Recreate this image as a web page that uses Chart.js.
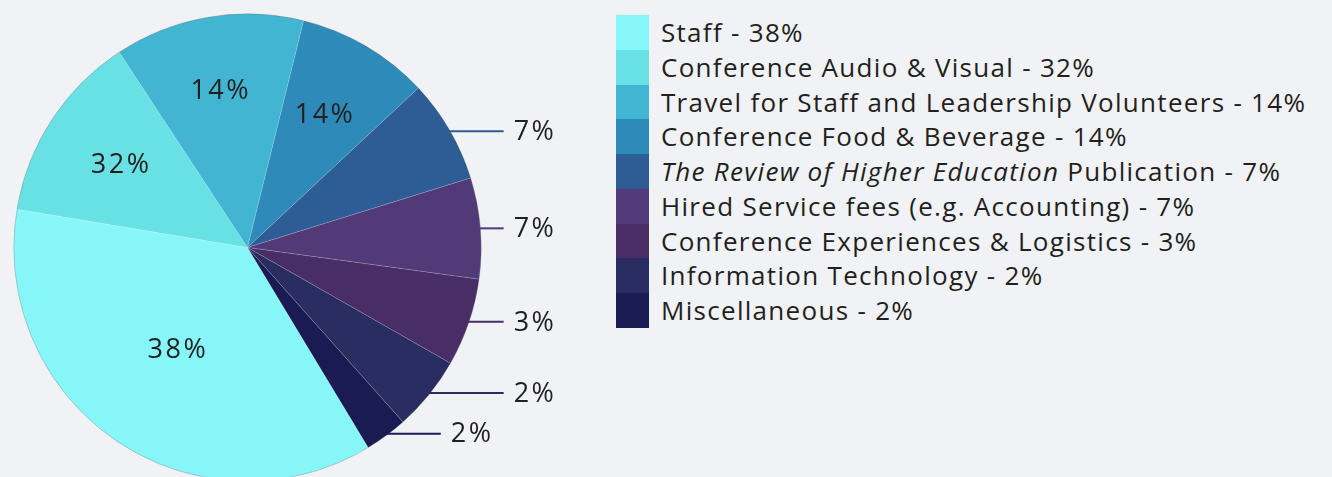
<!DOCTYPE html>
<html lang="en">
<head>
<meta charset="UTF-8">
<title>Budget breakdown</title>
<script src="https://cdn.jsdelivr.net/npm/chart.js"></script>
<style>
  html, body { margin: 0; padding: 0; background: #f1f2f5; overflow: hidden; width: 1332px; height: 477px; }
  #wrap { position: absolute; left: 0; top: 0; width: 600px; height: 495px; }
  #legend { position: absolute; left: 616px; top: 15px; font-family: "Open Sans", sans-serif; font-size: 26px; letter-spacing: 1.3px; color: #231f20; }
  .row { display: flex; align-items: center; height: 34.75px; }
  .sw { width: 33px; height: 34.75px; margin-right: 12px; }
  .txt { white-space: nowrap; line-height: 34.75px; }
</style>
</head>
<body>
<div id="wrap"><canvas id="pie" width="600" height="495"></canvas></div>
<div id="legend"></div>
<script>
// categories (the Review one has an italic title part)
const categories = [
    'Staff',
    'Conference Audio & Visual',
    'Travel for Staff and Leadership Volunteers',
    'Conference Food & Beverage',
    'Publication',
    'Hired Service fees (e.g. Accounting)',
    'Conference Experiences & Logistics',
    'Information Technology',
    'Miscellaneous'
];
const italicPrefix = ['', '', '', '', 'The Review of Higher Education', '', '', '', ''];
// slice sizes as drawn in the picture (degrees of the circle)
const sliceValues = [130.5, 47.3, 47.2, 33.1, 25.7, 25.1, 21.9, 18.6, 10.6];
// percentage labels printed on the chart
const percentLabels = ['38%', '32%', '14%', '14%', '7%', '7%', '3%', '2%', '2%'];
const colors = ['#86f6f8', '#68e1e4', '#42b5d2', '#2e8ab8', '#2d5d94', '#523a79', '#482d66', '#2a2d61', '#1b1b53'];

// légende en HTML
const legend = document.getElementById('legend');
categories.forEach((cat, i) => {
    const row = document.createElement('div');
    row.className = 'row';
    const sw = document.createElement('div');
    sw.className = 'sw';
    sw.style.background = colors[i];
    const txt = document.createElement('div');
    txt.className = 'txt';
    if (italicPrefix[i]) {
        const em = document.createElement('em');
        em.textContent = italicPrefix[i];
        txt.appendChild(em);
        txt.appendChild(document.createTextNode(' '));
    }
    txt.appendChild(document.createTextNode(cat + ' - ' + percentLabels[i]));
    row.appendChild(sw);
    row.appendChild(txt);
    legend.appendChild(row);
});

// fin contour gris autour du camembert
const outlinePlugin = {
    id: 'pieOutline',
    afterDatasetsDraw(chart) {
        const arc = chart.getDatasetMeta(0).data[0];
        if (!arc) return;
        const ctx = chart.ctx;
        ctx.save();
        ctx.strokeStyle = 'rgba(0,0,0,0.18)';
        ctx.lineWidth = 1;
        ctx.beginPath();
        ctx.arc(arc.x, arc.y, arc.outerRadius, 0, Math.PI * 2);
        ctx.stroke();
        ctx.restore();
    }
};

// étiquettes : dedans pour les grosses parts, avec trait pour les petites
const pctLabelPlugin = {
    id: 'pctLabels',
    afterDatasetsDraw(chart, args, opts) {
        const ctx = chart.ctx;
        const arcs = chart.getDatasetMeta(0).data;
        ctx.save();
        ctx.font = opts.font;
        ctx.letterSpacing = opts.spacing;
        ctx.fillStyle = opts.color;
        ctx.textBaseline = 'middle';
        arcs.forEach((arc, i) => {
            const mid = (arc.startAngle + arc.endAngle) / 2;
            const r = arc.outerRadius;
            if (i < opts.inside.length) {
                const d = r * opts.inside[i];
                ctx.textAlign = 'center';
                ctx.fillText(percentLabels[i], arc.x + Math.cos(mid) * d, arc.y + Math.sin(mid) * d);
            } else {
                const ex = arc.x + Math.cos(mid) * r * 0.99;
                const ey = arc.y + Math.sin(mid) * r * 0.99;
                const column = arc.x + r * 1.096;
                const endX = (column - ex > 100) ? ex + 56 : column;
                ctx.strokeStyle = colors[i];
                ctx.lineWidth = 2;
                ctx.beginPath();
                ctx.moveTo(ex, ey);
                ctx.lineTo(endX, ey);
                ctx.stroke();
                ctx.textAlign = 'left';
                ctx.fillText(percentLabels[i], endX + 10, ey + 1);
            }
        });
        ctx.restore();
    }
};

new Chart(document.getElementById('pie').getContext('2d'), {
    type: 'pie',
    data: {
        labels: categories,
        datasets: [{
            data: sliceValues,
            backgroundColor: colors,
            borderWidth: 0.6,
            borderColor: 'rgba(255,255,255,0.25)'
        }]
    },
    options: {
        responsive: false,
        devicePixelRatio: 1,
        animation: false,
        rotation: 148.9,
        layout: { padding: { left: 13.5, top: 13.5, bottom: 13.5, right: 118.5 } },
        plugins: {
            legend: { display: false },
            tooltip: { enabled: false },
            pctLabels: {
                font: '27px "Open Sans"',
                spacing: '2.5px',
                color: '#231f20',
                inside: [0.53, 0.645, 0.68, 0.655]
            }
        }
    },
    plugins: [outlinePlugin, pctLabelPlugin]
});
</script>
</body>
</html>
